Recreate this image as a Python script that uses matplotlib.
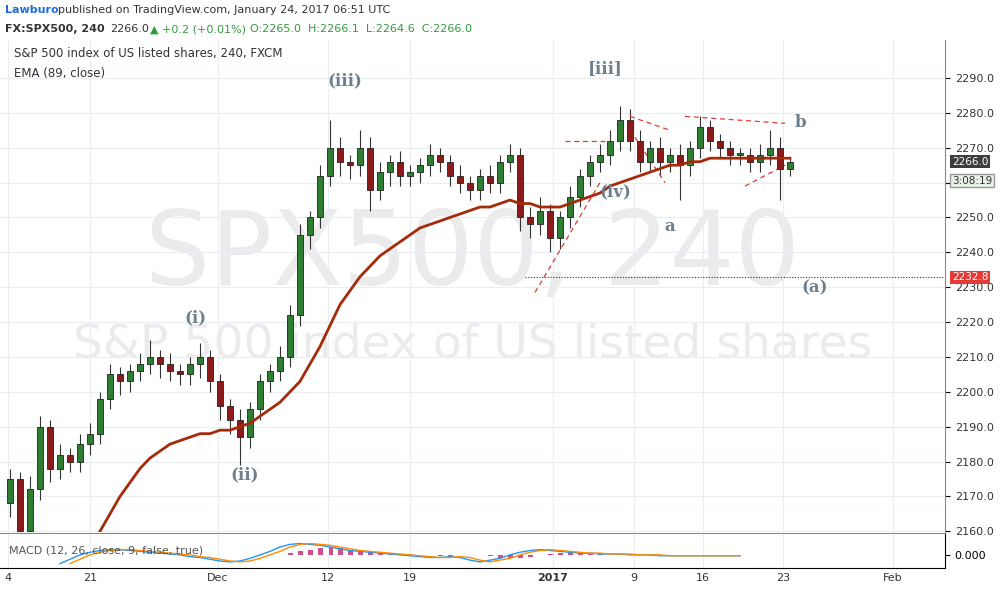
import matplotlib
matplotlib.use("Agg")
import matplotlib.pyplot as plt
import numpy as np

closes = [2175,2160,2172,2190,2178,2182,2180,2185,2188,2198,2205,2203,2206,2208,2210,2208,2206,2205,2208,2210,
          2203,2196,2192,2187,2195,2203,2206,2210,2222,2245,2250,2262,2270,2266,2265,2270,2258,2263,2266,2262,
          2263,2265,2268,2266,2262,2260,2258,2262,2260,2266,2268,2250,2248,2252,2244,2250,2256,2262,2266,2268,
          2272,2278,2272,2266,2270,2266,2268,2265,2270,2276,2272,2270,2268,2268,2266,2268,2270,2264,2266]
first_open = 2168
wick_up = [3,2,4,3,2,3,2,3,3,2,3,2,2,3,5,2,3,2,2,4,2,2,2,3,2,2,2,3,3,3,2,3,8,3,2,5,3,3,2,3,
           2,2,3,2,2,3,2,2,3,2,3,2,3,4,2,2,3,2,2,3,3,4,3,3,2,3,2,3,2,3,2,2,2,2,2,3,5,3,1]
wick_dn = [4,6,3,3,4,3,3,3,3,3,3,4,3,3,3,4,3,3,3,4,3,4,4,8,3,3,3,3,3,3,4,3,3,4,4,3,6,3,4,3,
           3,3,3,3,3,3,3,3,3,3,3,4,4,3,4,3,3,3,3,3,3,3,3,3,3,4,3,10,3,3,3,3,3,3,3,3,3,9,2]
ema = [np.nan]*9 + [2160,2165,2170,2174,2178,2181,2183,2185,2186,2187,2188,2188,2189,2189,2190,2191,2193,2195,2197,2200,
        2203,2208,2213,2219,2225,2229,2233,2236,2239,2241,2243,2245,2247,2248,2249,2250,2251,2252,2253,2253,
        2254,2255,2254,2254,2253,2253,2253,2254,2255,2256,2257,2259,2260,2261,2262,2263,2264,2265,2265,2266,
        2266,2267,2267,2267,2267,2267,2267,2267,2267,2267]
macd_hist = [0]*28 + [0.2,0.4,0.6,0.8,0.9,0.8,0.6,0.5,0.4,0.3,0.2,0.1,0.05,0,-0.05,-0.1,-0.1,-0.05,0,0,
             -0.1,-0.3,-0.4,-0.3,-0.2,0,0.1,0.2,0.3,0.3,0.2,0.1,0,0.05,0.05,0,0,0,0.02,-0.02,-0.05,-0.02,-0.03,0,0,0,0,0,0,0,0]
macd_line = [np.nan]*5 + [-1.0,-0.5,0,0.3,0.5,0.6,0.6,0.5,0.4,0.3,0.2,0.1,0,-0.2,-0.3,-0.5,-0.7,-0.8,-0.7,-0.4,0,0.4,
             0.9,1.2,1.3,1.2,1.1,0.9,0.7,0.5,0.4,0.3,0.2,0.1,0,-0.1,-0.2,-0.3,-0.3,-0.2,-0.3,-0.6,-0.8,-0.6,-0.4,
             0,0.3,0.5,0.6,0.5,0.4,0.3,0.2,0.2,0.1,0.1,0.1,0,0,0,-0.1,-0.1,-0.1,-0.1,-0.1,-0.1,-0.1,-0.1,-0.1]
tick_pos = [-0.2,8,20.8,31.8,40,54.3,62.4,69.3,77.3,88.3]
tick_lab = ["4","21","Dec","12","19","2017","9","16","23","Feb"]
yticks = list(range(2160, 2300, 10))

fig = plt.figure(figsize=(10.04,5.91), dpi=100)
W, H = 1004, 591
ax = fig.add_axes([0, (H-532)/H, 945/W, (532-40)/H])
mx = fig.add_axes([0, (H-568)/H, 945/W, 35/H], sharex=ax)
n = len(closes)
x = np.arange(n)
opens = [first_open] + closes[:-1]
for i in x:
    o, c = opens[i], closes[i]
    hi = max(o, c) + wick_up[i]; lo = min(o, c) - wick_dn[i]
    col = '#2e7d32' if c >= o else '#8b1a1a'
    ax.vlines(i, lo, hi, color='#333333', lw=0.8, zorder=2)
    ax.bar(i, max(abs(c-o), 0.4), bottom=min(o, c), width=0.6, color=col, edgecolor='#222222', lw=0.6, zorder=3)
ax.plot(np.arange(len(ema)), ema, color='#a52a0a', lw=2, zorder=4)
ax.set_xlim(-1, 93.5)
ax.set_ylim(2160 - 0.2, 2300.9)
ax.yaxis.tick_right()
ax.set_yticks(yticks)
ax.set_yticklabels([f"{v:.1f}" for v in yticks], fontsize=8, color='#333333')
ax.tick_params(axis='x', bottom=False, labelbottom=False)
ax.grid(True, color='#e8eef3', lw=0.8)
for s in ['top','left','bottom']:
    ax.spines[s].set_visible(False)
ax.spines['right'].set_color('#888888')

ax.text(0.5, 0.56, "SPX500, 240", transform=ax.transAxes, fontsize=74, color='#ebebeb', ha='center', va='center', zorder=0)
ax.text(0.5, 0.38, "S&P 500 index of US listed shares", transform=ax.transAxes, fontsize=34, color='#ebebeb', ha='center', va='center', zorder=0)
ax.text(0.015, 0.965, "S&P 500 index of US listed shares, 240, FXCM", transform=ax.transAxes, fontsize=8.5, color='#333333')
ax.text(0.015, 0.925, "EMA (89, close)", transform=ax.transAxes, fontsize=8.5, color='#333333')

lab = dict(color='#6d7f8f', fontsize=12, fontweight='bold', family='DejaVu Serif', ha='center', zorder=5)
for t, xi, yv in [("(i)",18.5,2220),("(ii)",23.5,2175),("(iii)",33.5,2288),("[iii]",59.5,2291.5),
                  ("(iv)",60.5,2256),("a",66,2246),("b",79,2276),("(a)",80.5,2228.5)]:
    ax.text(xi, yv, t, **lab)
ax.hlines(2232.8, 51.5, 93.5, colors='#333333', linestyles=(0,(1,1.5)), lw=0.8)
dash = dict(color='#e53935', ls=(0,(4,3)), lw=0.9)
for (x0,y0,x1,y1) in [(52.5,2228.5,59,2260),(55.5,2272,59.5,2272),(62,2279,66,2275),(62.5,2273,65.5,2260),
                      (67.5,2279,77.5,2277),(73.5,2259,77.5,2265)]:
    ax.plot([x0,x1],[y0,y1], **dash)
bb = dict(fontsize=7.5, ha='left', va='center', clip_on=False)
ax.text(94.2, 2266, "2266.0", color='white', bbox=dict(fc='#3d3d3d', ec='none', pad=1.2), **bb)
ax.text(94.2, 2260.6, "3:08:19", color='#333333', bbox=dict(fc='#e8f0e8', ec='#999999', pad=1.2), **bb)
ax.text(94.2, 2232.8, "2232.8", color='white', bbox=dict(fc='#e53935', ec='none', pad=1.2), **bb)

mx.bar(np.arange(len(macd_hist)), macd_hist, width=0.5, color='#d0508a')
ml = np.array(macd_line)
mx.plot(np.arange(len(ml)), ml, color='#2196f3', lw=1)
mx.plot(np.arange(1, len(ml)), ml[:-1], color='#ff8c00', lw=1)
mx.set_ylim(-1.5, 2.5)
mx.yaxis.tick_right()
mx.set_yticks([0]); mx.set_yticklabels(["0.000"], fontsize=8)
mx.set_xticks(tick_pos)
mx.set_xticklabels(tick_lab, fontsize=8, color='#333333')
for t in mx.get_xticklabels():
    if t.get_text() == "2017": t.set_fontweight('bold')
mx.tick_params(axis='x', length=0)
mx.grid(True, axis='x', color='#e8eef3')
mx.spines['left'].set_visible(False)
mx.spines['top'].set_color('#888888')
mx.text(0.01, 0.5, "MACD (12, 26, close, 9, false, true)", transform=mx.transAxes, fontsize=8, color='#555555', va='center')

fs = 8
fig.text(5/W, 1-10/H, "Lawburo", color='#1e6fd9', fontsize=fs, fontweight='bold', va='center')
fig.text(58/W, 1-10/H, "published on TradingView.com, January 24, 2017 06:51 UTC", color='#333333', fontsize=fs, va='center')
fig.text(5/W, 1-29/H, "FX:SPX500, 240", color='#333333', fontsize=fs, fontweight='bold', va='center')
fig.text(110/W, 1-29/H, "2266.0", color='#333333', fontsize=fs, va='center')
fig.text(150/W, 1-29/H, "▲ +0.2 (+0.01%)", color='#2e9e3a', fontsize=fs, va='center')
fig.text(250/W, 1-29/H, "O:2265.0  H:2266.1  L:2264.6  C:2266.0", color='#2e9e3a', fontsize=fs, va='center')
fig.savefig("out.png", dpi=100)
